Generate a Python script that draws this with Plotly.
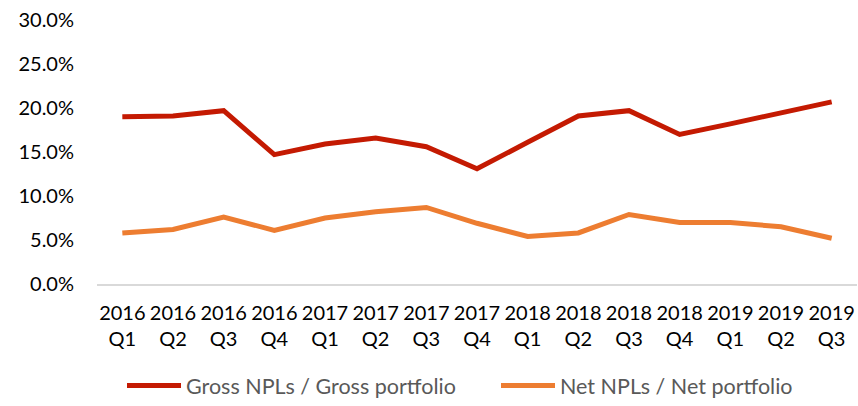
import plotly.graph_objects as go

quarters = ["2016<br>Q1", "2016<br>Q2", "2016<br>Q3", "2016<br>Q4",
            "2017<br>Q1", "2017<br>Q2", "2017<br>Q3", "2017<br>Q4",
            "2018<br>Q1", "2018<br>Q2", "2018<br>Q3", "2018<br>Q4",
            "2019<br>Q1", "2019<br>Q2", "2019<br>Q3"]
gross_npl = [0.190, 0.191, 0.197, 0.147, 0.159, 0.166, 0.156, 0.131,
             0.161, 0.191, 0.197, 0.170, 0.182, 0.195, 0.207]
net_npl = [0.058, 0.062, 0.076, 0.061, 0.075, 0.082, 0.087, 0.069,
           0.054, 0.058, 0.079, 0.070, 0.070, 0.065, 0.052]
y_ticks = [0, 0.05, 0.10, 0.15, 0.20, 0.25, 0.30]

fig = go.Figure()
fig.add_trace(go.Scatter(x=quarters, y=gross_npl, mode="lines",
                         name="Gross NPLs / Gross portfolio", legend="legend",
                         line=dict(color="#C41A02", width=5)))
fig.add_trace(go.Scatter(x=quarters, y=net_npl, mode="lines",
                         name="Net NPLs / Net portfolio", legend="legend2",
                         line=dict(color="#ED7D31", width=5)))

leg_common = dict(orientation="h", xanchor="left", yanchor="bottom", y=-0.462,
                  itemwidth=54,
                  font=dict(color="#595959", size=21.5), bgcolor="rgba(0,0,0,0)")
fig.update_layout(
    width=858, height=406,
    margin=dict(l=97, r=1, t=20, b=122, autoexpand=False),
    plot_bgcolor="white", paper_bgcolor="white",
    font=dict(family="Lato, Calibri, sans-serif", size=20, color="#000000"),
    showlegend=True,
    legend=dict(x=0.0329, **leg_common),
    legend2=dict(x=0.5250, **leg_common),
)
fig.update_xaxes(type="category", range=[-0.5, 14.5], showgrid=False,
                 showline=True, linecolor="#D9D9D9", linewidth=1.5,
                 ticks="", tickangle=0, ticklabelstandoff=10, automargin=False)
fig.update_yaxes(range=[0, 0.30], tickvals=y_ticks, tickformat=".1%",
                 showgrid=False, zeroline=False, showline=False,
                 ticks="", ticklabelstandoff=22, automargin=False)

fig.write_html("out.html", config={"displayModeBar": False},
               post_script="document.body.style.margin='0';")
